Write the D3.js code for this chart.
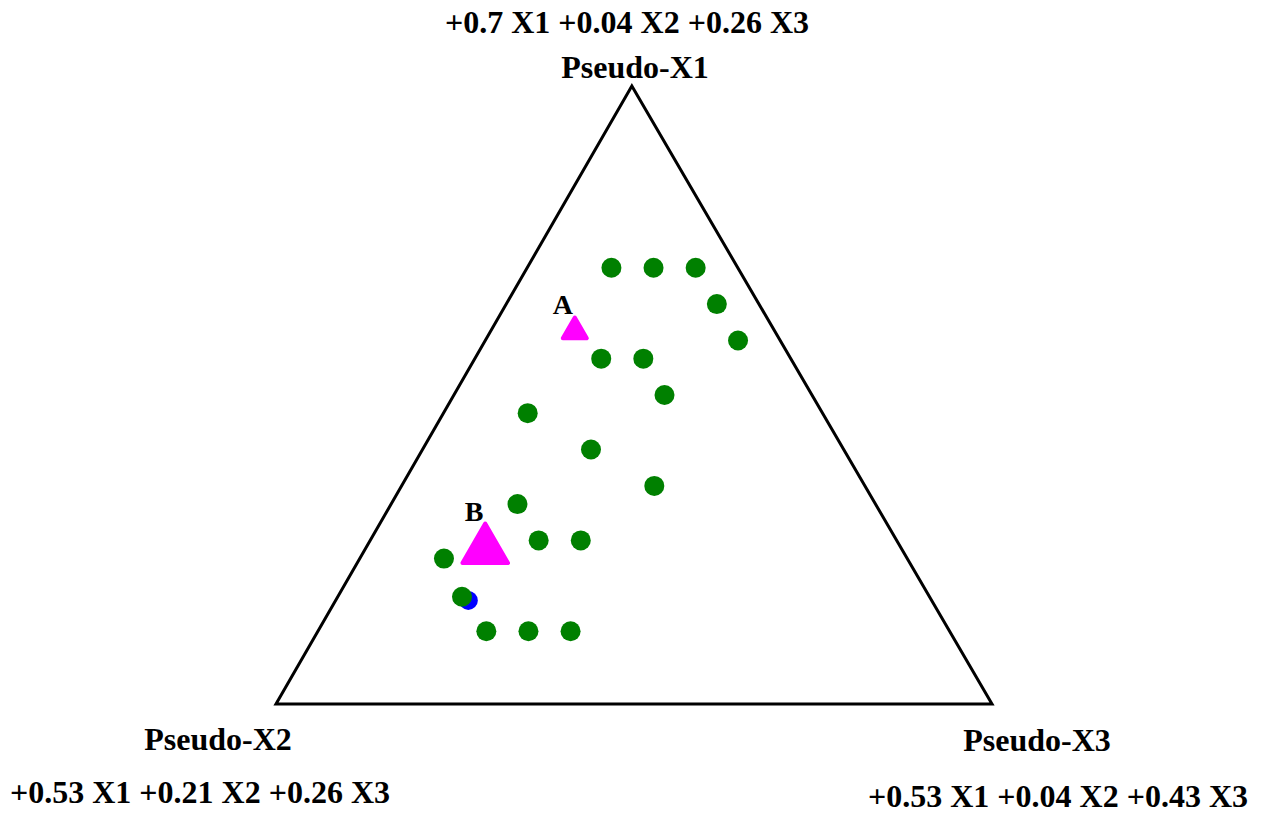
<!DOCTYPE html>
<html>
<head>
<meta charset="utf-8">
<script src="https://cdn.jsdelivr.net/npm/d3@7"></script>
<style>
  body { margin: 0; background: #fff; }
  svg text { font-family: "Liberation Serif", "Times New Roman", serif; font-weight: bold; fill: #000; }
</style>
</head>
<body>
<div id="chart"></div>
<script>
// Component bounds (real proportions) -> pseudo-components
const lowerBounds = [0.53, 0.04, 0.26];
const vertexNames = ['Pseudo-X1', 'Pseudo-X2', 'Pseudo-X3'];
const vertexEquations = [
    '+0.7 X1 +0.04 X2 +0.26 X3',
    '+0.53 X1 +0.21 X2 +0.26 X3',
    '+0.53 X1 +0.04 X2 +0.43 X3'
];

// Design points, real proportions of X1, X2, X3
const designX1 = [0.65, 0.65, 0.65, 0.64, 0.63, 0.625, 0.625, 0.615, 0.61, 0.60, 0.59, 0.585, 0.575, 0.575, 0.57, 0.5595, 0.55, 0.55, 0.55];
const designX2 = [0.07, 0.06, 0.05, 0.05, 0.05, 0.085, 0.075, 0.075, 0.11, 0.10, 0.09, 0.125, 0.125, 0.115, 0.15, 0.151, 0.15, 0.14, 0.13];
const designX3 = [0.28, 0.29, 0.30, 0.31, 0.32, 0.29, 0.30, 0.31, 0.28, 0.30, 0.32, 0.29, 0.30, 0.31, 0.28, 0.2895, 0.30, 0.31, 0.32];

// Point partly hidden under a design point
const hiddenX1 = [0.5585];
const hiddenX2 = [0.15];
const hiddenX3 = [0.2915];

// Optimum points
const optLabels = ['A', 'B'];
const optX1 = [0.6325, 0.5724];
const optX2 = [0.0875, 0.139];
const optX3 = [0.28, 0.2886];
const optSize = [250, 900];

const W = 1263, H = 816;
const svg = d3.select('#chart').append('svg')
    .attr('width', W)
    .attr('height', H);

svg.append('rect').attr('width', W).attr('height', H).attr('fill', '#fff');

const xScale = d3.scaleLinear().domain([0, 1]).range([276, 992]);
const yScale = d3.scaleLinear().domain([0, 1]).range([704, 86]);
const span = 1 - d3.sum(lowerBounds);

// real proportions -> pixel position
function project(x1, x2, x3) {
    const p1 = (x1 - lowerBounds[0]) / span;
    const p3 = (x3 - lowerBounds[2]) / span;
    return [xScale(p3 + p1 * 0.497), yScale(p1)];
}

// Triangle outline
const corners = [
    project(lowerBounds[0] + span, lowerBounds[1], lowerBounds[2]),
    project(lowerBounds[0], lowerBounds[1] + span, lowerBounds[2]),
    project(lowerBounds[0], lowerBounds[1], lowerBounds[2] + span)
];
svg.append('path')
    .attr('d', d3.line()(corners) + 'Z')
    .attr('fill', 'none')
    .attr('stroke', '#000')
    .attr('stroke-width', 3);

// Vertex labels
const labelPos = [
    { name: [635, 78], eq: [627, 33] },
    { name: [218, 750], eq: [200, 803] },
    { name: [1037, 751], eq: [1058, 807] }
];
vertexNames.forEach((n, i) => {
    svg.append('text')
        .attr('x', labelPos[i].name[0]).attr('y', labelPos[i].name[1])
        .attr('text-anchor', 'middle')
        .attr('font-size', 32)
        .text(n);
    svg.append('text')
        .attr('x', labelPos[i].eq[0]).attr('y', labelPos[i].eq[1])
        .attr('text-anchor', 'middle')
        .attr('font-size', 32)
        .text(vertexEquations[i]);
});

// Hidden blue point
svg.append('g').selectAll('circle')
    .data(hiddenX1.map((d, i) => project(d, hiddenX2[i], hiddenX3[i])))
    .join('circle')
    .attr('cx', d => d[0]).attr('cy', d => d[1])
    .attr('r', 9.5)
    .attr('fill', '#0000ff');

// Design points
svg.append('g').selectAll('circle')
    .data(designX1.map((d, i) => project(d, designX2[i], designX3[i])))
    .join('circle')
    .attr('cx', d => d[0]).attr('cy', d => d[1])
    .attr('r', 10)
    .attr('fill', '#008000');

// Optimum points
const opt = optLabels.map((l, i) => ({ label: l, pos: project(optX1[i], optX2[i], optX3[i]), size: optSize[i] }));
svg.append('g').selectAll('path')
    .data(opt)
    .join('path')
    .attr('transform', d => `translate(${d.pos[0]},${d.pos[1]})`)
    .attr('d', d => d3.symbol(d3.symbolTriangle, d.size)())
    .attr('fill', '#ff00ff')
    .attr('stroke', '#ff00ff')
    .attr('stroke-width', 4)
    .attr('stroke-linejoin', 'round');

svg.append('g').selectAll('text')
    .data(opt)
    .join('text')
    .attr('x', d => d.pos[0] - (d.label === 'A' ? 12 : 11))
    .attr('y', d => d.pos[1] - (d.label === 'A' ? 17 : 29))
    .attr('text-anchor', 'middle')
    .attr('font-size', 28)
    .text(d => d.label);
</script>
</body>
</html>
